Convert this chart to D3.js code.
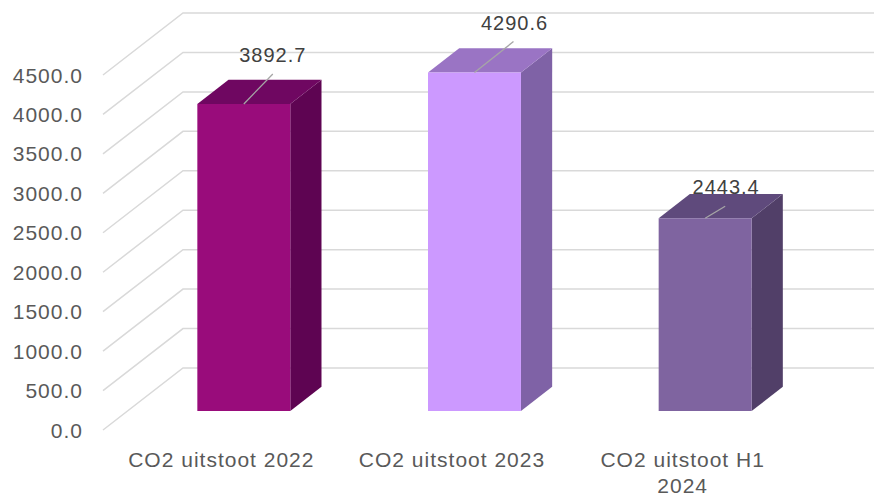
<!DOCTYPE html>
<html>
<head>
<meta charset="utf-8">
<script src="https://cdn.jsdelivr.net/npm/d3@7"></script>
<style>
  html, body { margin: 0; padding: 0; background: #fff; }
  svg { display: block; }
  text { font-family: "Liberation Sans", Arial, sans-serif; }
</style>
</head>
<body>
<svg id="chart" width="874" height="496"></svg>
<script>
// ---- data ----
const categories = ["CO2 uitstoot 2022", "CO2 uitstoot 2023", "CO2 uitstoot H1 2024"];
const categoryLines = [["CO2 uitstoot 2022"], ["CO2 uitstoot 2023"], ["CO2 uitstoot H1", "2024"]];
const values = [3892.7, 4290.6, 2443.4];
const valueLabels = ["3892.7", "4290.6", "2443.4"];
const yTicks = [0, 500, 1000, 1500, 2000, 2500, 3000, 3500, 4000, 4500];

// ---- layout / style ----
const W = 874, H = 496;
const floorY = 430;               // front edge of floor (value 0, depth 0)
const depthVec = [80, -62];       // full floor depth projection
const barFrontDepth = 0.306, barDepth = 0.39;
const faceColors = [
  { front: "#990c7b", top: "#6f0761", side: "#5e0452" },
  { front: "#cc99ff", top: "#9a74c4", side: "#7f62a6" },
  { front: "#7f64a0", top: "#5f4a7c", side: "#513f68" }
];
// manual data-label nudges (relative to front-top-centre of each bar)
const labelNudge = [
  { tx: 29, ty: -42, lx: 29, ly: -30 },
  { tx: 40, ty: -43, lx: 39, ly: -31 },
  { tx: 21, ty: -24, lx: 20, ly: -12 }
];

const svg = d3.select("#chart");

const x = d3.scaleBand().domain(categories).range([104, 796]).paddingInner(0).paddingOuter(0);
const y = d3.scaleLinear().domain([0, 4500]).range([floorY, floorY - 355]);

function proj(u, v, d) {
  return [u + depthVec[0] * d, y(v) + depthVec[1] * d];
}

// gridlines
const grid = svg.append("g");
yTicks.forEach(t => {
  const p0 = proj(103, t, 0), p1 = proj(103, t, 1);
  grid.append("path")
    .attr("d", `M${p0[0]},${p0[1]}L${p1[0]},${p1[1]}L${W},${p1[1]}`)
    .attr("fill", "none")
    .attr("stroke", "#d9d9d9")
    .attr("stroke-width", 1.5);
});

// y tick labels
svg.append("g").selectAll("text").data(yTicks).join("text")
  .attr("x", 83)
  .attr("y", d => y(d))
  .attr("dy", "0.36em")
  .attr("text-anchor", "end")
  .attr("font-size", 21)
  .attr("letter-spacing", 1)
  .attr("fill", "#595959")
  .text(d => d.toFixed(1));

// bars
const barW = x.bandwidth() * 0.403;
const bars = svg.append("g");
categories.forEach((c, i) => {
  const cx = x(c) + x.bandwidth() / 2;
  const l = cx - barW / 2, r = cx + barW / 2;
  const v = values[i];
  const d0 = barFrontDepth, d1 = barFrontDepth + barDepth;
  const poly = pts => pts.map(p => p.join(",")).join(" ");
  const col = faceColors[i];
  // side
  bars.append("polygon")
    .attr("points", poly([proj(r, 0, d0), proj(r, v, d0), proj(r, v, d1), proj(r, 0, d1)]))
    .attr("fill", col.side);
  // top
  bars.append("polygon")
    .attr("points", poly([proj(l, v, d0), proj(r, v, d0), proj(r, v, d1), proj(l, v, d1)]))
    .attr("fill", col.top);
  // front
  bars.append("polygon")
    .attr("points", poly([proj(l, 0, d0), proj(r, 0, d0), proj(r, v, d0), proj(l, v, d0)]))
    .attr("fill", col.front);

  // data label + leader line
  const ft = proj(cx, v, d0);
  const n = labelNudge[i];
  bars.append("line")
    .attr("x1", ft[0]).attr("y1", ft[1])
    .attr("x2", ft[0] + n.lx).attr("y2", ft[1] + n.ly)
    .attr("stroke", "#a6a6a6").attr("stroke-width", 1.3);
  bars.append("text")
    .attr("x", ft[0] + n.tx)
    .attr("y", ft[1] + n.ty)
    .attr("text-anchor", "middle")
    .attr("font-size", 20)
    .attr("letter-spacing", 1)
    .attr("fill", "#404040")
    .text(valueLabels[i]);
});

// category labels
const cat = svg.append("g");
categories.forEach((c, i) => {
  const cx = x(c) + x.bandwidth() / 2;
  const t = cat.append("text")
    .attr("text-anchor", "middle")
    .attr("font-size", 21)
    .attr("letter-spacing", 1)
    .attr("fill", "#595959");
  categoryLines[i].forEach((line, k) => {
    t.append("tspan").attr("x", cx + 2).attr("y", 467 + k * 26).text(line);
  });
});
</script>
</body>
</html>
